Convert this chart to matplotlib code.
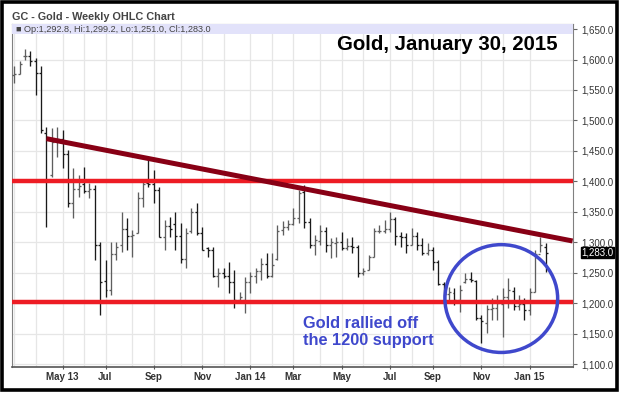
import numpy as np
import pandas as pd
import matplotlib
matplotlib.use("Agg")
import matplotlib.pyplot as plt
import matplotlib.dates as mdates
from matplotlib.patches import Ellipse, Rectangle
from matplotlib.ticker import FuncFormatter, FixedLocator

plt.rcParams['font.family'] = ['Liberation Sans', 'DejaVu Sans']

# weekly bars, dated by the Monday of each week
weeks = pd.date_range('2013-03-04', '2015-01-26', freq='W-MON')

opens = [1575, 1577, 1605, 1606, 1598, 1578, 1480, 1410, 1468, 1470,
         1445, 1365, 1388, 1395, 1384, 1388, 1295, 1236, 1222, 1280,
         1295, 1322, 1310, 1315, 1372, 1398, 1395, 1386, 1308, 1326,
         1330, 1310, 1272, 1318, 1350, 1315, 1290, 1288, 1245, 1250,
         1245, 1235, 1205, 1205, 1235, 1245, 1252, 1265, 1245, 1272,
         1320, 1325, 1330, 1340, 1382, 1333, 1295, 1302, 1318, 1295,
         1298, 1300, 1290, 1293, 1292, 1250, 1254, 1276, 1318, 1318,
         1322, 1338, 1310, 1308, 1295, 1310, 1295, 1282, 1287, 1268,
         1232, 1215, 1216, 1205, 1235, 1240, 1236, 1175, 1168, 1190,
         1192, 1198, 1210, 1220, 1195, 1198, 1188, 1218, 1280, 1292.8]
highs = [1590, 1598, 1618, 1614, 1602, 1590, 1489, 1487, 1489, 1484,
         1451, 1422, 1410, 1423, 1397, 1394, 1300, 1271, 1300, 1300,
         1350, 1340, 1320, 1382, 1402, 1435, 1418, 1391, 1336, 1341,
         1350, 1331, 1323, 1356, 1364, 1325, 1292, 1292, 1258, 1258,
         1267, 1254, 1218, 1243, 1251, 1258, 1274, 1282, 1282, 1328,
         1335, 1336, 1356, 1386, 1394, 1340, 1312, 1328, 1325, 1307,
         1308, 1317, 1307, 1308, 1295, 1258, 1279, 1323, 1328, 1336,
         1350, 1341, 1317, 1315, 1323, 1317, 1307, 1299, 1292, 1271,
         1235, 1226, 1225, 1230, 1249, 1251, 1238, 1180, 1197, 1208,
         1213, 1225, 1241, 1226, 1213, 1208, 1225, 1287, 1308, 1299.2]
lows = [1562, 1577, 1600, 1590, 1542, 1480, 1325, 1407, 1440, 1422,
        1358, 1340, 1374, 1381, 1372, 1271, 1180, 1210, 1213, 1271,
        1284, 1287, 1276, 1315, 1358, 1391, 1364, 1309, 1287, 1309,
        1287, 1266, 1258, 1315, 1312, 1287, 1275, 1243, 1226, 1241,
        1216, 1192, 1200, 1184, 1216, 1233, 1238, 1241, 1243, 1271,
        1312, 1320, 1328, 1331, 1323, 1290, 1279, 1295, 1284, 1274,
        1276, 1287, 1287, 1282, 1243, 1246, 1254, 1276, 1315, 1315,
        1317, 1295, 1292, 1282, 1295, 1287, 1279, 1279, 1254, 1230,
        1210, 1202, 1197, 1185, 1233, 1235, 1172, 1134, 1151, 1172,
        1172, 1144, 1192, 1189, 1189, 1172, 1180, 1218, 1284, 1251.0]
closes = [1577, 1592, 1606, 1598, 1578, 1485, 1400, 1465, 1470, 1445,
          1365, 1387, 1393, 1384, 1388, 1296, 1234, 1222, 1280, 1292,
          1322, 1310, 1312, 1372, 1395, 1395, 1386, 1308, 1326, 1322,
          1310, 1272, 1315, 1350, 1315, 1288, 1287, 1245, 1250, 1245,
          1235, 1205, 1210, 1235, 1245, 1252, 1265, 1245, 1262, 1318,
          1325, 1330, 1340, 1380, 1333, 1295, 1303, 1318, 1295, 1300,
          1300, 1290, 1293, 1292, 1250, 1252, 1275, 1318, 1318, 1322,
          1338, 1310, 1308, 1295, 1310, 1295, 1282, 1287, 1268, 1232,
          1215, 1218, 1205, 1222, 1240, 1238, 1175, 1170, 1190, 1192,
          1200, 1210, 1222, 1195, 1198, 1188, 1218, 1280, 1295, 1283.0]

support_levels = [1400, 1202]
trend_start = ('2013-04-15', 1470)
trend_end = ('2015-03-02', 1302)

tick_labels = ['May 13', 'Jul', 'Sep', 'Nov', 'Jan 14', 'Mar',
               'May', 'Jul', 'Sep', 'Nov', 'Jan 15']
header = 'Op:1,292.8, Hi:1,299.2, Lo:1,251.0, Cl:1,283.0'
last_close = closes[-1]

fig = plt.figure(figsize=(6.22, 3.94), dpi=100)
ax = fig.add_axes([12/622, 27/394, 561/622, 343/394])

x = mdates.date2num(weeks)
o = np.array(opens); h = np.array(highs); l = np.array(lows); c = np.array(closes)
up = c >= o
cols = np.where(up, '#5e5e5e', '#1a1a1a')
tw = 2.6
ax.vlines(x, l, h, colors=cols, lw=0.95, zorder=3)
ax.hlines(o, x - tw, x, colors=cols, lw=0.95, zorder=3)
ax.hlines(c, x, x + tw, colors=cols, lw=0.95, zorder=3)

ax.set_xlim(x[0] - 2.9, mdates.date2num(pd.Timestamp('2015-03-02')) + 0.5)
ax.set_ylim(1095.1, 1658.3)

# month ticks on first weekly bar of each month
firsts = weeks.to_series().groupby([weeks.year, weeks.month]).first()
fx = mdates.date2num(pd.DatetimeIndex(firsts.values))
labeled = fx[[i for i, d in enumerate(firsts.values) if pd.Timestamp(d).month % 2 == 1 and i > 0]]
ax.xaxis.set_major_locator(FixedLocator(labeled))
ax.xaxis.set_minor_locator(FixedLocator(fx))
ax.set_xticklabels(tick_labels, fontsize=7, fontweight='bold', color='#333333')
ax.tick_params(axis='x', which='major', length=3, direction='inout', color='#555555', pad=2)
ax.tick_params(axis='x', which='minor', length=0)

ax.yaxis.tick_right()
ax.set_yticks(np.arange(1100, 1651, 50))
ax.yaxis.set_major_formatter(FuncFormatter(lambda v, p: f'{v:,.1f}'))
ax.tick_params(axis='y', length=3, direction='out', color='#666666', labelsize=7,
               labelcolor='#333333', pad=3)

ax.grid(True, which='both', axis='x', color='#e6e6e6', lw=0.9, zorder=0)
ax.grid(True, which='major', axis='y', color='#e6e6e6', lw=0.9, zorder=0)
ax.set_axisbelow(True)
for s in ['left', 'top', 'right']:
    ax.spines[s].set_color('#808080')
    ax.spines[s].set_linewidth(0.8)
ax.spines['bottom'].set_color('#555555')
ax.spines['bottom'].set_linewidth(1.2)

# header strip inside the plot
ax.add_patch(Rectangle((0, 1 - 10/343), 1, 10/343, transform=ax.transAxes,
                       facecolor='#e2e2fa', edgecolor='none', zorder=4))
ax.text(4/561, 1 - 5.5/343, '\u25a0 ' + header, transform=ax.transAxes, fontsize=6.6,
        color='#444444', va='center', ha='left', zorder=5)

# support / resistance lines and trend line
for lv in support_levels:
    ax.axhline(lv, color='#ed1c24', lw=3.2, zorder=5)
tx = mdates.date2num(pd.to_datetime([trend_start[0], trend_end[0]]))
ax.plot(tx, [trend_start[1], trend_end[1]], color='#880015', lw=3.6,
        solid_capstyle='butt', zorder=6)

# circle around the recent lows
cx = mdates.date2num(pd.Timestamp('2014-11-29'))
ax.add_patch(Ellipse((cx, 1207.5), 147, 177, facecolor='none',
                     edgecolor='#3f48cc', lw=2.5, zorder=7))

# last price marker
ax.annotate(f'{last_close:,.1f}', xy=(1.0, last_close), xycoords=('axes fraction', 'data'),
            xytext=(6, 0), textcoords='offset points', fontsize=7, color='white',
            va='center', ha='left', annotation_clip=False,
            bbox=dict(boxstyle='square,pad=0.08', fc='black', ec='black'))

fig.text(12/622, 1 - 16.5/394, 'GC - Gold - Weekly OHLC Chart', fontsize=7.8,
         fontweight='bold', color='#444444', va='center', ha='left')
fig.text(558/622, 1 - 45/394, 'Gold, January 30, 2015', fontsize=14.7,
         fontweight='bold', color='black', va='center', ha='right')
fig.text(303/622, 1 - 332/394, 'Gold rallied off\nthe 1200 support', fontsize=11.8,
         fontweight='bold', color='#3f48cc', va='center', ha='left', linespacing=1.15)

# outer black frame
fig.add_artist(Rectangle((1.7/622, 3.8/394), 615/622, 388/394, transform=fig.transFigure,
                         fill=False, edgecolor='black', lw=2.6))

fig.savefig('out.png', dpi=100)
